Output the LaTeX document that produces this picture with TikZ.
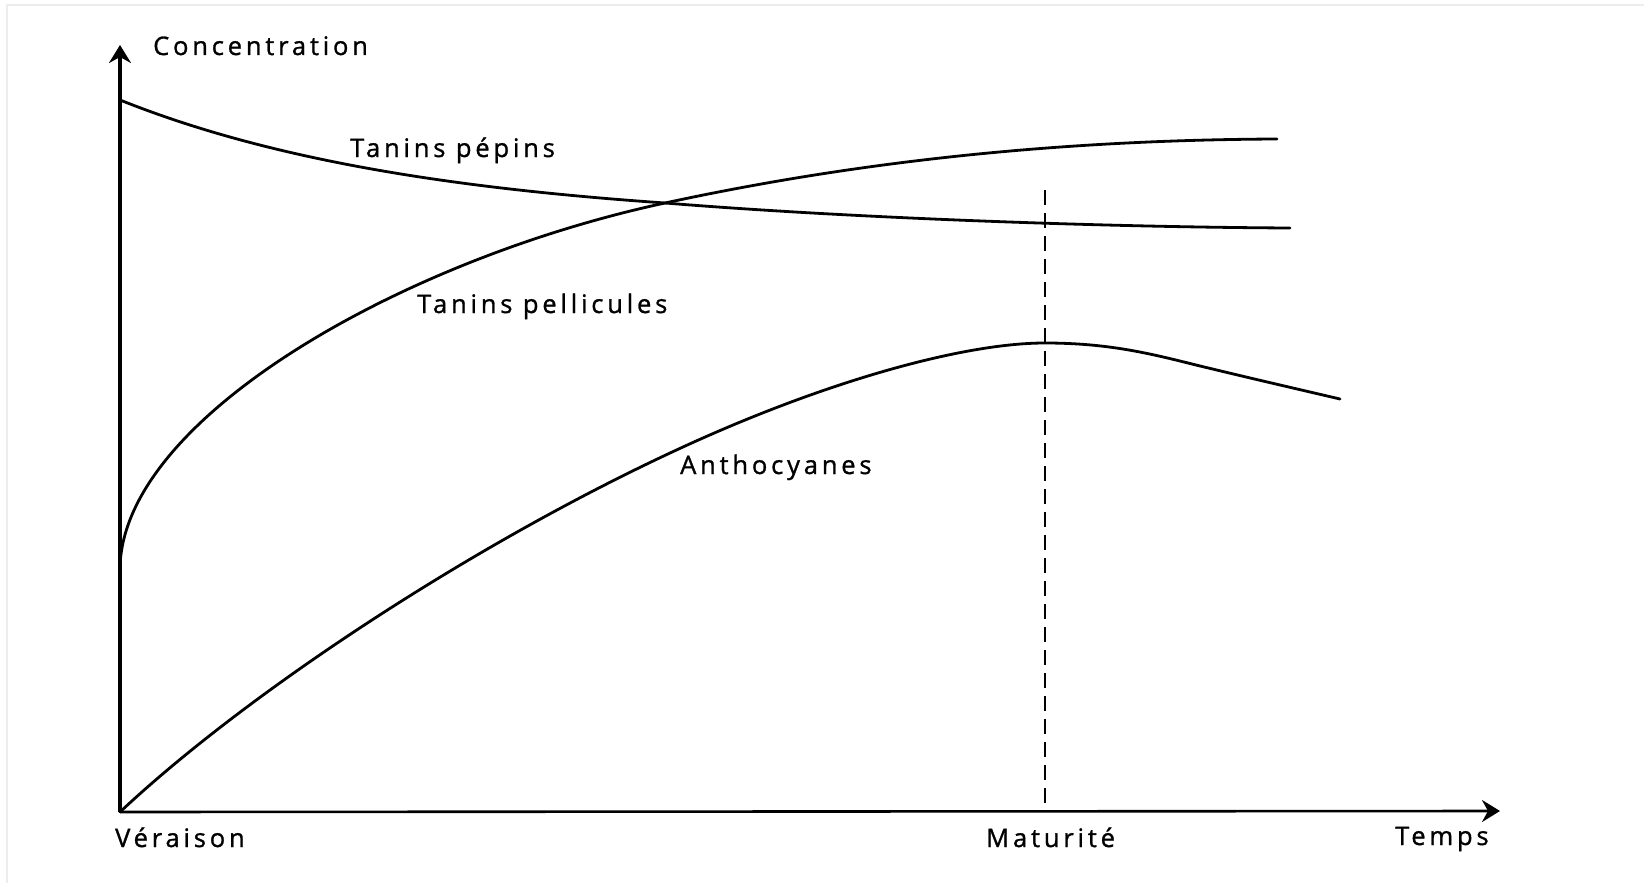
\documentclass[tikz,border=0pt]{standalone}
\usepackage{fontspec}
\setmainfont{Open Sans}[LetterSpace=15,FakeBold=1.1]
\usetikzlibrary{arrows.meta}
\begin{document}
\begin{tikzpicture}[x=1pt,y=-1pt,
  axis/.style={line width=3.2pt,-{Stealth[length=18pt,width=22pt,inset=6pt]}},
  curve/.style={line width=2.8pt,line join=round,line cap=round},
  guide/.style={line width=2pt,dash pattern=on 15pt off 8pt},
  lbl/.style={anchor=base west,inner sep=0pt,font=\fontsize{25.5pt}{28pt}\selectfont}]
  \useasboundingbox (0,0) rectangle (1644,883);
  % faint page edges
  \draw[line width=1.5pt,black!7] (7,883) -- (7,5) -- (1644,5);

  \coordinate (O) at (120,812);
  \coordinate (ytip) at (120,45);
  \coordinate (xtip) at (1500,811);
  \coordinate (mtop) at (1045,190);
  \coordinate (mbot) at (1045,811);
  \coordinate (pepA) at (120,100);
  \coordinate (cross) at (665,203);
  \coordinate (pepB) at (1290,228);
  \coordinate (pelA) at (120,570);
  \coordinate (pelB) at (1277,139);
  \coordinate (anM) at (683,447);
  \coordinate (peak) at (1045,343);
  \coordinate (anK) at (1200,366);
  \coordinate (anB) at (1340,399);

  % axes
  \draw[axis] (O) -- (ytip);
  \draw[axis,line width=2.6pt] (O) -- (xtip);

  % maturity marker
  \draw[guide] (mtop) -- (mbot);

  % seed tannins
  \draw[curve] (pepA) .. controls (270,160) and (450,188) .. (cross)
    .. controls (850,218) and (1100,227) .. (pepB);
  % skin tannins
  \draw[curve] (pelA) .. controls (120,420) and (400,260) .. (cross)
    .. controls (850,163) and (1050,140) .. (pelB);
  % anthocyanins
  \draw[curve] (O) .. controls (250,690) and (480,540) .. (anM)
    .. controls (820,384) and (960,343) .. (peak)
    .. controls (1110,343) and (1152,354) .. (anK)
    .. controls (1250,378) .. (anB);

  % labels
  \node[lbl] (conc) at (153,55) {Concentration};
  \node[lbl] (pep) at (350,157) {Tanins pépins};
  \node[lbl] (pel) at (417,313) {Tanins pellicules};
  \node[lbl] (anth) at (680,474) {Anthocyanes};
  \node[lbl] (ver) at (115,847) {Véraison};
  \node[lbl] (mat) at (986,847) {Maturité};
  \node[lbl] (temps) at (1395,845) {Temps};
\end{tikzpicture}
\end{document}
